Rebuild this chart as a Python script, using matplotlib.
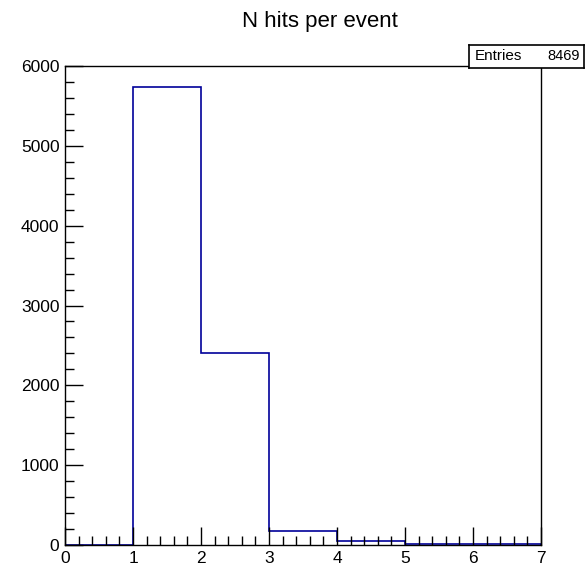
import numpy as np
import matplotlib.pyplot as plt
from matplotlib.ticker import MultipleLocator

plt.rcParams['font.family'] = ['Liberation Sans', 'DejaVu Sans']

# histogram content, one value per unit bin
bin_edges = [0, 1, 2, 3, 4, 5, 6, 7]
counts = [0, 5740, 2400, 170, 55, 15, 10]
entries = 8469

fig = plt.figure(figsize=(5.85, 5.66), dpi=100)
ax = fig.add_axes([65 / 585, 21 / 566, 476 / 585, 479 / 566])

ax.stairs(counts, bin_edges, color='#000099', linewidth=1.2)

ax.set_xlim(0, 7)
ax.set_ylim(0, 6000)
ax.xaxis.set_major_locator(MultipleLocator(1))
ax.xaxis.set_minor_locator(MultipleLocator(0.2))
ax.yaxis.set_major_locator(MultipleLocator(1000))
ax.yaxis.set_minor_locator(MultipleLocator(200))
ax.tick_params(which='both', direction='in', top=False, right=False,
               labelsize=12.5, width=1)
ax.tick_params(which='major', length=13, pad=4)
ax.tick_params(which='minor', length=6.5)
for s in ax.spines.values():
    s.set_linewidth(1)

fig.text(320 / 585, 1 - 22 / 566, 'N hits per event', ha='center', va='center',
         fontsize=16)

# stats box
box = fig.add_axes([469 / 585, 1 - 68 / 566, 115 / 585, 23 / 566])
box.set_xticks([])
box.set_yticks([])
box.set_facecolor('white')
for s in box.spines.values():
    s.set_linewidth(1.2)
box.text(0.05, 0.5, 'Entries', transform=box.transAxes, ha='left', va='center',
         fontsize=11)
box.text(0.96, 0.5, str(entries), transform=box.transAxes, ha='right',
         va='center', fontsize=10.5)

fig.savefig('out.png', dpi=100)
